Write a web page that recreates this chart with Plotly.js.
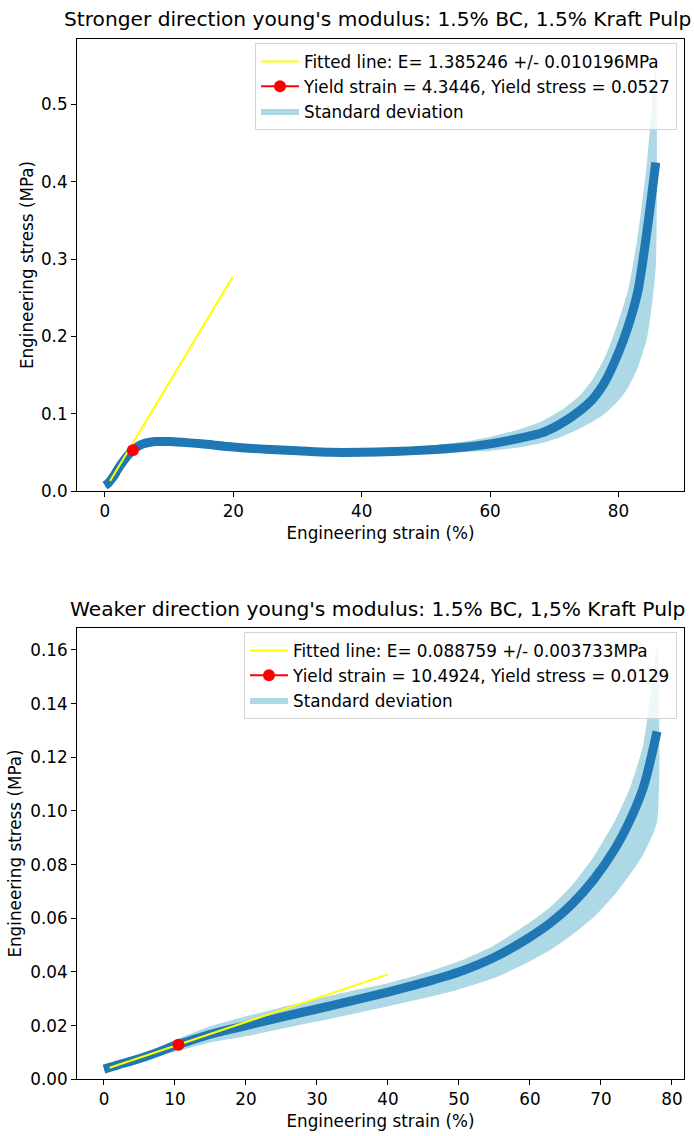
<!DOCTYPE html>
<html>
<head>
<meta charset="utf-8">
<script src="https://cdn.plot.ly/plotly-3.0.1.min.js"></script>
<style>html,body{margin:0;padding:0;background:#fff}#chart{width:694px;height:1136px}</style>
</head>
<body>
<div id="chart"></div>
<script>
// ---- Data ----
const topStrain = [0,0.5,1,1.5,2,3,4,5,6,7,8,10,12,15,20,25,30,35,40,45,50,55,60,65,68,71,74,76,78,80,81.5,83,84.5,85.8];
const topMean   = [.007,.010,.015,.021,.028,.040,.050,.057,.061,.063,.064,.064,.063,.061,.057,.054,.052,.050,.050,.051,.053,.056,.061,.069,.075,.087,.104,.119,.143,.179,.213,.258,.340,.425];
const topUpper  = [.010,.013,.018,.024,.031,.043,.053,.060,.064,.066,.067,.067,.066,.064,.060,.057,.055,.053,.053,.055,.058,.063,.070,.081,.090,.104,.124,.145,.175,.220,.260,.330,.430,.550];
const topLower  = [.004,.007,.012,.018,.025,.037,.047,.054,.058,.060,.061,.061,.060,.058,.054,.051,.049,.047,.047,.047,.048,.050,.052,.057,.062,.070,.081,.090,.101,.117,.134,.160,.200,.290];
const topFitStrain = [0.8, 19.9];
const topFitStress = [0.013, 0.277];
const topYieldStrain = [4.3446];
const topYieldStress = [0.0527];

const botStrain = [0,2,4,6,8,10,12,15,20,25,30,35,40,45,50,55,60,63,66,69,72,74,76,77.9];
const botMean   = [.0038,.0054,.0069,.0086,.0105,.0126,.0143,.0168,.0200,.0232,.0262,.0293,.0325,.0360,.0400,.0455,.0530,.0585,.0655,.0745,.0860,.0960,.1090,.1296];
const botUpper  = [.0044,.0061,.0078,.0098,.0121,.0147,.0168,.0198,.0235,.0268,.0300,.0330,.0358,.0395,.0440,.0500,.0585,.0645,.0725,.0830,.0965,.1080,.1250,.1610];
const botLower  = [.0032,.0046,.0060,.0074,.0089,.0103,.0117,.0137,.0160,.0188,.0215,.0243,.0272,.0302,.0335,.0378,.0440,.0485,.0540,.0605,.0690,.0760,.0840,.0960];
const botFitStrain = [0.8, 40.0];
const botFitStress = [0.0043, 0.0391];
const botYieldStrain = [10.4924];
const botYieldStress = [0.0129];

const titles = [
  "Stronger direction young's modulus: 1.5% BC, 1.5% Kraft Pulp",
  "Weaker direction young's modulus: 1.5% BC, 1,5% Kraft Pulp"
];
const fitNames = ["Fitted line: E= 1.385246 +/- 0.010196MPa", "Fitted line: E= 0.088759 +/- 0.003733MPa"];
const yieldNames = ["Yield strain = 4.3446, Yield stress = 0.0527", "Yield strain = 10.4924, Yield stress = 0.0129"];
const stdName = "Standard deviation";
const xLabel = "Engineering strain (%)";
const yLabel = "Engineering stress (MPa)";

// ---- Styling ----
const FONT = "DejaVu Sans, Liberation Sans, sans-serif";
const W = 694, H = 1136;
const BLUE = "#1f77b4", BAND = "#add8e6";
const FS = 16.8, TFS = 20.2;

function band(x, lo, up) {
  return { xs: x.concat(x.slice().reverse()), ys: up.concat(lo.slice().reverse()) };
}

function makeTraces(strain, mean, lower, upper, fx, fy, yx, yy, idx) {
  const xa = idx === 0 ? 'x' : 'x2';
  const ya = idx === 0 ? 'y' : 'y2';
  const lg = idx === 0 ? 'legend' : 'legend2';
  const b = band(strain, lower, upper);
  return [
    { type:'scatter', x:b.xs, y:b.ys, fill:'toself', fillcolor:BAND, mode:'lines',
      line:{width:0, color:BAND, shape:'spline', smoothing:0.6}, name:stdName, xaxis:xa, yaxis:ya, legend:lg,
      legendgroup:'s'+idx, legendrank:3, hoverinfo:'skip' },
    { type:'scatter', x:strain, y:mean, mode:'lines', line:{color:BLUE, width:9, shape:'spline', smoothing:0.8},
      showlegend:false, xaxis:xa, yaxis:ya },
    { type:'scatter', x:fx, y:fy, mode:'lines', line:{color:'#ffff00', width:2},
      name:fitNames[idx], xaxis:xa, yaxis:ya, legend:lg, legendgroup:'f'+idx, legendrank:1 },
    { type:'scatter', x:yx, y:yy, mode:'lines+markers', line:{color:'#ff0000', width:2},
      marker:{color:'#ff0000', size:12}, name:yieldNames[idx], xaxis:xa, yaxis:ya,
      legend:lg, legendgroup:'y'+idx, legendrank:2 }
  ];
}

const data = [].concat(
  makeTraces(topStrain, topMean, topLower, topUpper, topFitStrain, topFitStress, topYieldStrain, topYieldStress, 0),
  makeTraces(botStrain, botMean, botLower, botUpper, botFitStrain, botFitStress, botYieldStrain, botYieldStress, 1)
);

const axisCommon = {
  showline:true, mirror:true, linecolor:'#000', linewidth:1,
  ticks:'outside', ticklen:5, tickwidth:1, tickcolor:'#000',
  showgrid:false, zeroline:false, automargin:false,
  tickfont:{family:FONT, size:FS, color:'#000'}
};
const titleFont = {family:FONT, size:FS, color:'#000'};

const legendCommon = {
  xanchor:'right', yanchor:'top',
  bgcolor:'rgba(255,255,255,0.8)', bordercolor:'#d4d4d4', borderwidth:1,
  font:{family:FONT, size:FS, color:'#000'}, tracegroupgap:1,
  traceorder:'normal', itemwidth:38
};

const layout = {
  width:W, height:H, margin:{l:0,r:0,t:0,b:0},
  paper_bgcolor:'#fff', plot_bgcolor:'#fff', showlegend:true,
  xaxis: Object.assign({}, axisCommon, {domain:[77/W, 684/W], range:[-4.35, 90.2], dtick:20, tick0:0, anchor:'y',
    title:{text:xLabel, font:titleFont, standoff:7}}),
  yaxis: Object.assign({}, axisCommon, {domain:[1-491/H, 1-39/H], range:[0, 0.5847], dtick:0.1, tick0:0, tickformat:'.1f', anchor:'x',
    title:{text:yLabel, font:titleFont, standoff:3}}),
  xaxis2: Object.assign({}, axisCommon, {domain:[77/W, 684/W], range:[-3.8, 81.7], dtick:10, tick0:0, anchor:'y2',
    title:{text:xLabel, font:titleFont, standoff:6}}),
  yaxis2: Object.assign({}, axisCommon, {domain:[1-1079.3/H, 1-627.7/H], range:[0, 0.1683], dtick:0.02, tick0:0, tickformat:'.2f', anchor:'x2',
    title:{text:yLabel, font:titleFont, standoff:4}}),
  legend: Object.assign({}, legendCommon, {x:677/W, y:1-43/H}),
  legend2: Object.assign({}, legendCommon, {x:677/W, y:1-632/H}),
  annotations: [
    {text:titles[0], xref:'paper', yref:'paper', x:377/W, y:1-19/H, xanchor:'center', yanchor:'middle',
     showarrow:false, font:{family:FONT, size:TFS, color:'#000'}},
    {text:titles[1], xref:'paper', yref:'paper', x:377/W, y:1-609/H, xanchor:'center', yanchor:'middle',
     showarrow:false, font:{family:FONT, size:TFS, color:'#000'}}
  ]
};

Plotly.newPlot('chart', data, layout, {displayModeBar:false, staticPlot:true});
</script>
</body>
</html>
